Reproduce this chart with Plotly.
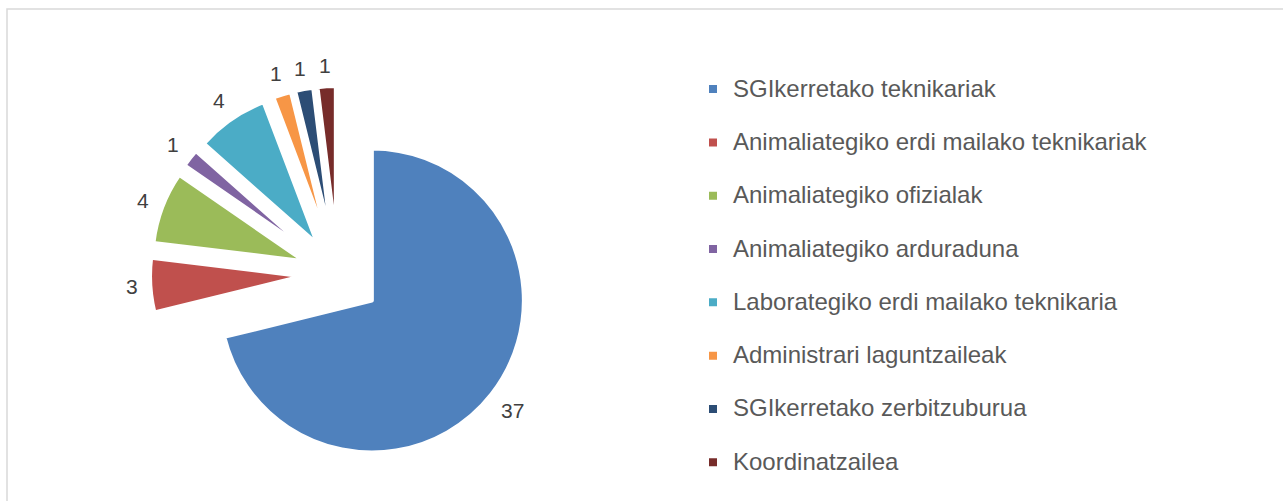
import numpy as np
import plotly.graph_objects as go

# chart data
labels = [
    "SGIkerretako teknikariak",
    "Animaliategiko erdi mailako teknikariak",
    "Animaliategiko ofizialak",
    "Animaliategiko arduraduna",
    "Laborategiko erdi mailako teknikaria",
    "Administrari laguntzaileak",
    "SGIkerretako zerbitzuburua",
    "Koordinatzailea",
]
values = [37, 3, 4, 1, 4, 1, 1, 1]
colors = ["#4F81BD", "#C0504D", "#9BBB59", "#8064A2",
          "#4BACC6", "#F79646", "#2C4D75", "#772C2A"]
pulls = [0.283, 0.237, 0.237, 0.237, 0.237, 0.237, 0.237, 0.237]

W, H = 1283, 501
FONT = "Arial, 'Liberation Sans', sans-serif"
LABEL_SIZE = 21

# pie placement (pixels): centre and radius, domain derived from them
cx, cy, R = 338, 274, 152
half = R * (1 + max(pulls))
dom_x = [(cx - half) / W, (cx + half) / W]
dom_y = [1 - (cy + half) / H, 1 - (cy - half) / H]

fig = go.Figure()
fig.add_trace(
    go.Pie(
        # an empty 2nd line gives the legend rows their taller spacing
        labels=["<span style='font-size:24px'>%s</span><br> " % l for l in labels],
        values=values,
        sort=False,
        direction="clockwise",
        rotation=0,
        pull=pulls,
        marker=dict(colors=colors, line=dict(color="white", width=4)),
        textinfo="none",
        hoverinfo="value",
        domain=dict(x=dom_x, y=dom_y),
    )
)

# data labels outside each slice, Excel style (no leader lines)
total = sum(values)
start = 0.0
for v, p in zip(values, pulls):
    mid = np.radians((start + v / 2) / total * 360)
    start += v
    ux, uy = np.sin(mid), -np.cos(mid)
    txt = str(v)
    tw = 0.556 * LABEL_SIZE * len(txt)
    th = 0.8 * LABEL_SIZE
    d = R * (1 + p) + 12 + 0.5 * (tw * abs(ux) + th * abs(uy))
    fig.add_annotation(
        x=(cx + d * ux) / W, y=1 - (cy + d * uy) / H,
        xref="paper", yref="paper",
        text=txt, showarrow=False,
        xanchor="center", yanchor="middle",
        font=dict(size=LABEL_SIZE, color="#404040", family=FONT),
    )

fig.add_shape(
    type="rect", xref="paper", yref="paper",
    x0=7 / W, x1=1.02, y0=-0.02, y1=1 - 9 / H,
    line=dict(color="#D9D9D9", width=1.5),
    fillcolor="rgba(0,0,0,0)",
)

fig.update_layout(
    width=W,
    height=H,
    margin=dict(l=0, r=0, t=0, b=0, autoexpand=False),
    paper_bgcolor="white",
    plot_bgcolor="white",
    showlegend=True,
    legend=dict(
        x=693 / W, xanchor="left",
        y=1 - 70 / H, yanchor="top",
        valign="top",
        font=dict(size=19.35, color="#595959", family=FONT),
        bgcolor="rgba(0,0,0,0)",
    ),
)

# drop the browser's default body margin so the figure fills the window
fig.write_html(
    "out.html",
    config={"displayModeBar": False},
    post_script="document.body.style.margin='0px';",
)
